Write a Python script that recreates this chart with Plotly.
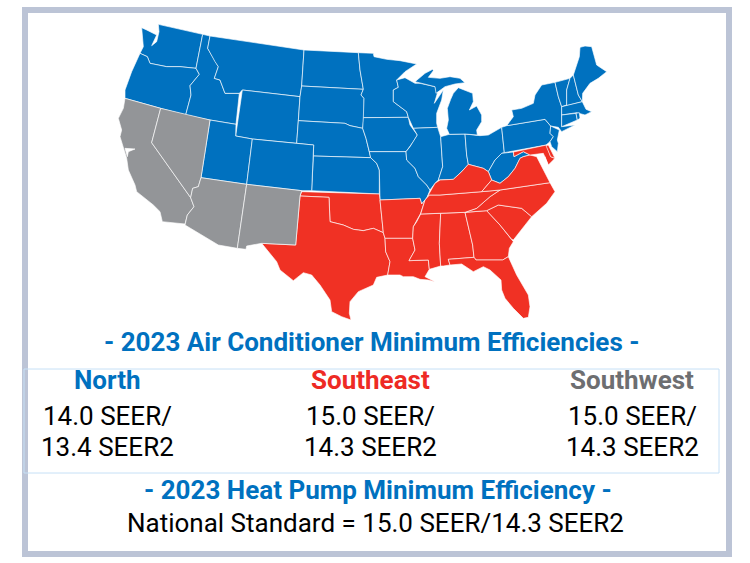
import plotly.graph_objects as go

# state outlines (map units, 3 per image pixel, offset 100 px in x)
WA = [(175,73),(308,103),(288,205),(240,200),(200,200),(150,190),(142,170),(120,160),(130,140),(127,110),(125,83),(140,90),(170,105),(155,137),(170,125),(177,95)]
OR = [(120,160),(142,170),(150,190),(200,200),(240,200),(288,205),(298,223),(270,257),(273,285),(257,345),(182,325),(75,295),(75,270),(95,215)]
ID = [(308,103),(330,108),(323,145),(345,185),(355,200),(343,235),(360,240),(375,280),(418,280),(408,373),(330,360),(257,345),(273,285),(270,257),(298,223),(288,205)]
MT = [(330,108),(612,150),(605,258),(600,290),(427,270),(418,280),(375,280),(360,240),(343,235),(355,200),(345,185),(323,145)]
WY = [(427,270),(600,290),(595,362),(590,430),(457,417),(407,408)]
ND = [(612,150),(775,158),(780,210),(790,268),(605,258)]
SD = [(605,258),(790,268),(783,285),(792,295),(792,352),(788,385),(750,377),(735,370),(595,362),(600,290)]
NE = [(595,362),(735,370),(750,377),(788,385),(798,415),(808,455),(812,473),(640,468),(641,435),(590,430)]
KS = [(640,468),(812,473),(830,490),(838,510),(838,582),(635,572)]
MN = [(775,158),(820,160),(822,170),(860,178),(900,182),(950,192),(915,215),(890,240),(895,262),(880,270),(880,305),(920,335),(925,352),(790,353),(792,295),(783,285),(790,268),(780,210)]
IA = [(790,353),(925,352),(930,375),(952,405),(940,425),(930,440),(918,455),(808,455),(798,415),(788,385)]
MO = [(808,455),(918,455),(920,480),(945,505),(955,530),(980,555),(990,570),(982,590),(975,600),(965,612),(960,595),(840,600),(838,510),(830,490),(812,473)]
AR = [(840,600),(960,595),(965,612),(975,600),(962,640),(940,680),(938,715),(855,715),(850,698)]
OK = [(605,575),(838,582),(840,600),(850,698),(820,685),(790,692),(760,688),(730,675),(690,665),(687,592),(600,588)]
TX = [(600,588),(687,592),(690,665),(730,675),(760,688),(790,692),(820,685),(850,698),(855,715),(857,755),(870,785),(863,825),(830,832),(820,855),(775,875),(750,905),(748,940),(753,960),(725,950),(695,935),(690,900),(660,855),(635,825),(610,818),(580,842),(540,810),(530,785),(485,730),(587,735)]
NM = [(440,553),(605,572),(600,588),(587,735),(485,730),(440,738),(438,748),(412,745)]
AZ = [(303,533),(440,553),(412,745),(355,735),(255,675),(262,645),(282,620),(272,593),(278,565),(295,560)]
CA = [(75,295),(182,325),(155,428),(272,593),(282,620),(262,645),(255,672),(187,665),(180,635),(160,615),(110,575),(105,555),(85,510),(80,475),(60,410),(65,390),(55,355),(70,325)]
NV = [(182,325),(330,360),(303,533),(295,560),(278,565),(272,593),(155,428)]
UT = [(330,360),(408,373),(407,408),(457,417),(440,553),(303,533)]
CO = [(457,417),(590,430),(641,435),(635,572),(605,572),(440,553)]
LA = [(855,715),(938,715),(945,750),(927,782),(985,780),(988,808),(975,830),(1005,845),(985,840),(960,838),(940,830),(910,830),(900,825),(863,825),(870,785),(857,755)]
MS = [(962,642),(1022,640),(1018,730),(1022,798),(988,808),(985,780),(927,782),(945,750),(938,715),(940,680),(950,665)]
AL = [(1022,640),(1095,637),(1118,735),(1122,772),(1045,778),(1050,795),(1030,798),(1022,798),(1018,730)]
GA = [(1095,637),(1160,632),(1200,675),(1235,718),(1240,725),(1228,745),(1225,770),(1208,780),(1128,780),(1122,772),(1118,735)]
FL = [(1045,778),(1122,772),(1128,780),(1208,780),(1225,770),(1250,825),(1285,885),(1290,920),(1285,952),(1270,955),(1240,925),(1215,895),(1205,870),(1203,840),(1170,810),(1150,800),(1120,815),(1085,792),(1050,795)]
SC = [(1160,632),(1195,615),(1230,620),(1265,625),(1295,650),(1265,690),(1240,720),(1235,718),(1200,675)]
NC = [(1130,625),(1170,590),(1200,570),(1350,548),(1365,575),(1340,610),(1295,650),(1265,625),(1230,620),(1195,615),(1160,632),(1095,637)]
TN = [(962,642),(975,600),(988,585),(1020,585),(1145,575),(1200,570),(1170,590),(1130,625),(1095,637),(1022,640)]
KY = [(982,590),(1005,550),(1020,540),(1060,538),(1085,515),(1105,493),(1150,505),(1165,515),(1175,540),(1145,575),(1020,585),(988,585)]
VA = [(1145,575),(1175,540),(1200,550),(1225,530),(1245,505),(1260,475),(1270,470),(1290,465),(1310,470),(1330,510),(1350,548),(1200,570)]
WV = [(1165,515),(1175,540),(1200,550),(1225,530),(1245,505),(1260,475),(1270,470),(1290,465),(1270,455),(1242,470),(1240,456),(1213,458),(1205,460),(1185,480),(1170,505)]
MD = [(1240,456),(1340,435),(1352,470),(1365,475),(1345,495),(1335,475),(1330,460),(1290,465),(1270,455),(1242,470)]
DE = [(1338,437),(1345,435),(1365,475),(1352,470)]
NJ = [(1352,378),(1378,390),(1372,420),(1375,430),(1372,455),(1355,440),(1350,425),(1360,410),(1350,400)]
PA = [(1205,382),(1220,377),(1335,358),(1352,378),(1350,400),(1360,410),(1350,425),(1338,435),(1213,458)]
OH = [(1095,402),(1140,407),(1165,405),(1205,382),(1213,458),(1205,460),(1185,480),(1170,505),(1165,515),(1150,505),(1105,493),(1100,465)]
IN = [(1022,410),(1048,403),(1095,402),(1100,465),(1105,493),(1085,515),(1060,538),(1020,540),(1015,540),(1028,500)]
IL = [(940,385),(1013,382),(1022,410),(1028,500),(1015,540),(1005,550),(990,570),(980,555),(955,530),(945,505),(920,480),(918,455),(930,440),(940,425),(952,405)]
WI = [(890,240),(915,233),(945,250),(960,250),(1005,260),(1012,280),(1003,310),(1030,270),(1025,300),(1010,340),(1010,370),(1013,382),(940,385),(925,352),(920,335),(880,305),(880,270),(895,262)]
MI_L = [(1048,403),(1040,385),(1045,360),(1042,325),(1052,298),(1060,280),(1075,263),(1095,270),(1118,280),(1120,305),(1108,330),(1130,318),(1145,345),(1145,365),(1130,390),(1132,405),(1095,402)]
MI_U = [(945,245),(975,220),(998,208),(1000,212),(985,232),(1020,235),(1050,230),(1080,235),(1095,248),(1065,252),(1035,260),(1015,275),(1008,280),(1005,260),(960,250)]
NY = [(1235,330),(1265,325),(1300,310),(1305,285),(1325,255),(1365,247),(1375,290),(1385,320),(1385,380),(1425,375),(1385,395),(1375,382),(1352,378),(1335,358),(1220,377),(1240,350)]
VT = [(1365,247),(1410,235),(1400,270),(1400,315),(1385,320),(1375,290)]
NH = [(1410,235),(1420,225),(1435,285),(1447,305),(1400,317),(1400,270)]
ME = [(1420,225),(1438,170),(1440,142),(1455,138),(1475,140),(1490,195),(1520,215),(1495,235),(1470,250),(1448,280),(1447,305),(1435,285)]
MA = [(1385,320),(1447,305),(1458,328),(1475,335),(1455,345),(1430,338),(1385,345)]
CT = [(1385,345),(1428,340),(1432,360),(1385,380)]
RI = [(1428,340),(1438,338),(1440,355),(1432,360)]

# white bays cut into the land
CHESAPEAKE = [(1335,470),(1327,490),(1338,505),(1345,525),(1352,515),(1345,495)]
SF_BAY = [(75,445),(105,447),(85,455),(82,470)]

north = [WA, OR, ID, MT, WY, ND, SD, NE, KS, MN, IA, MO, UT, CO, WI, IL, IN, OH, MI_L, MI_U, WV, PA, NY, NJ, VT, NH, ME, MA, CT, RI]
southeast = [OK, TX, AR, LA, MS, AL, GA, FL, SC, NC, TN, KY, VA, MD, DE]
southwest = [CA, NV, AZ, NM]
water = [CHESAPEAKE, SF_BAY]

regions = ["North", "Southeast", "Southwest"]
seer = ["14.0 SEER/", "15.0 SEER/", "15.0 SEER/"]
seer2 = ["13.4 SEER2", "14.3 SEER2", "14.3 SEER2"]
ac_title = "- 2023 Air Conditioner Minimum Efficiencies -"
hp_title = "- 2023 Heat Pump Minimum Efficiency -"
hp_text = "National Standard = 15.0 SEER/14.3 SEER2"

BLUE = "#0071bf"
RED = "#f03124"
GRAY = "#939598"

fig = go.Figure()
for states, color in [(north, BLUE), (southeast, RED), (southwest, GRAY), (water, "white")]:
    for st in states:
        fig.add_trace(go.Scatter(
            x=[p[0] for p in st] + [st[0][0]],
            y=[p[1] for p in st] + [st[0][1]],
            mode="lines",
            fill="toself",
            fillcolor=color,
            line=dict(color="rgba(255,255,255,0.8)", width=0.8),
            hoverinfo="skip",
            showlegend=False,
        ))


def px_text(x, y, text, color, size, bold=False):
    fig.add_annotation(
        x=x / 750, y=1 - y / 563, xref="paper", yref="paper",
        text="<b>" + text + "</b>" if bold else text,
        showarrow=False, xanchor="center", yanchor="middle",
        font=dict(family="Roboto", size=size, color=color),
    )


px_text(371, 342, ac_title, BLUE, 26, True)
for cx, name, color, a, b in zip([108, 370, 632], regions, [BLUE, "#ee2a24", "#6d6e71"], seer, seer2):
    px_text(cx, 380, name, color, 26, True)
    px_text(cx, 416, a, "black", 26)
    px_text(cx, 447, b, "black", 26)
px_text(378, 490, hp_title, BLUE, 26, True)
px_text(375, 523, hp_text, "black", 26)

# outer frame and the thin box round the table
fig.add_shape(type="rect", xref="paper", yref="paper", x0=25 / 750, x1=729 / 750, y0=1 - 554 / 563, y1=1 - 10 / 563,
              line=dict(color="#bcc4d6", width=6), layer="below")
fig.add_shape(type="rect", xref="paper", yref="paper", x0=24 / 750, x1=719 / 750, y0=1 - 473 / 563, y1=1 - 369 / 563,
              line=dict(color="#c6e0f6", width=1), layer="below")

fig.update_xaxes(range=[-300, 1950], visible=False)
fig.update_yaxes(range=[1689, 0], visible=False)
fig.update_layout(
    width=750, height=563,
    margin=dict(l=0, r=0, t=0, b=0),
    paper_bgcolor="white", plot_bgcolor="white",
)
# the page's default body margin would push the figure 8 px off
fig.write_html("out.html", config={"displayModeBar": False},
               post_script="document.body.style.margin='0';document.body.style.overflow='hidden';")
